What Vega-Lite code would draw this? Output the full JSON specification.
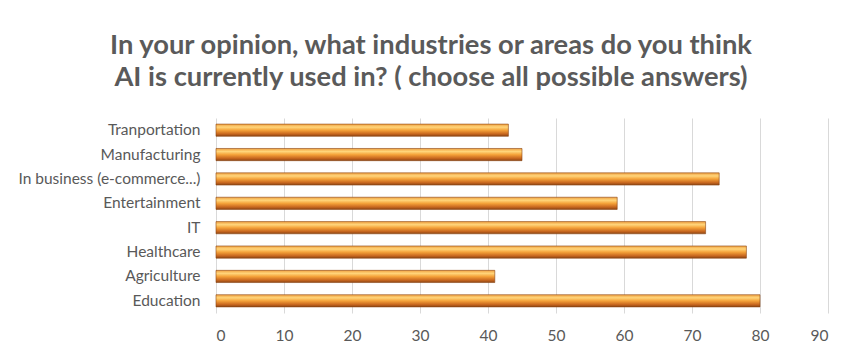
{
  "$schema": "https://vega.github.io/schema/vega-lite/v6.json",
  "autosize": {"type": "none"},
  "width": 612,
  "height": 195,
  "padding": {"left": 216, "top": 118, "right": 19, "bottom": 34},
  "background": "white",
  "title": {
    "text": ["In your opinion, what industries or areas do you think", "AI is currently used in? ( choose all possible answers)"],
    "anchor": "middle",
    "dx": -91,
    "offset": 27,
    "font": "Lato",
    "fontSize": 27.3,
    "fontWeight": "bold",
    "color": "#5A5A5A",
    "lineHeight": 32
  },
  "data": {
    "values": [
      {"area": "Education", "value": 80},
      {"area": "Agriculture", "value": 41},
      {"area": "Healthcare", "value": 78},
      {"area": "IT", "value": 72},
      {"area": "Entertainment", "value": 59},
      {"area": "In business (e-commerce...)", "value": 74},
      {"area": "Manufacturing", "value": 45},
      {"area": "Tranportation", "value": 43}
    ]
  },
  "mark": {
    "type": "bar",
    "stroke": "#8a4512",
    "strokeWidth": 0.6,
    "color": {
      "gradient": "linear",
      "x1": 0, "y1": 0, "x2": 0, "y2": 1,
      "stops": [
        {"offset": 0, "color": "#F0A040"},
        {"offset": 0.25, "color": "#FFD57A"},
        {"offset": 0.5, "color": "#F5A33A"},
        {"offset": 0.8, "color": "#C9681F"},
        {"offset": 1, "color": "#8E4614"}
      ]
    }
  },
  "encoding": {
    "y": {
      "field": "area",
      "type": "nominal",
      "sort": ["Tranportation", "Manufacturing", "In business (e-commerce...)", "Entertainment", "IT", "Healthcare", "Agriculture", "Education"],
      "scale": {"paddingInner": 0.5, "paddingOuter": 0.25},
      "axis": {"title": null, "ticks": false, "domain": false, "labelPadding": 16, "labelFont": "Lato", "labelFontSize": 15.5, "labelColor": "#595959", "labelLimit": 300}
    },
    "x": {
      "field": "value",
      "type": "quantitative",
      "scale": {"domain": [0, 90], "nice": false},
      "axis": {"title": null, "values": [0, 10, 20, 30, 40, 50, 60, 70, 80, 90], "ticks": false, "domain": false, "grid": true, "gridColor": "#D9D9D9", "gridWidth": 1, "labelPadding": 15, "labelFont": "Lato", "labelFontSize": 15.5, "labelColor": "#595959"}
    }
  },
  "config": {"view": {"stroke": null}}
}
